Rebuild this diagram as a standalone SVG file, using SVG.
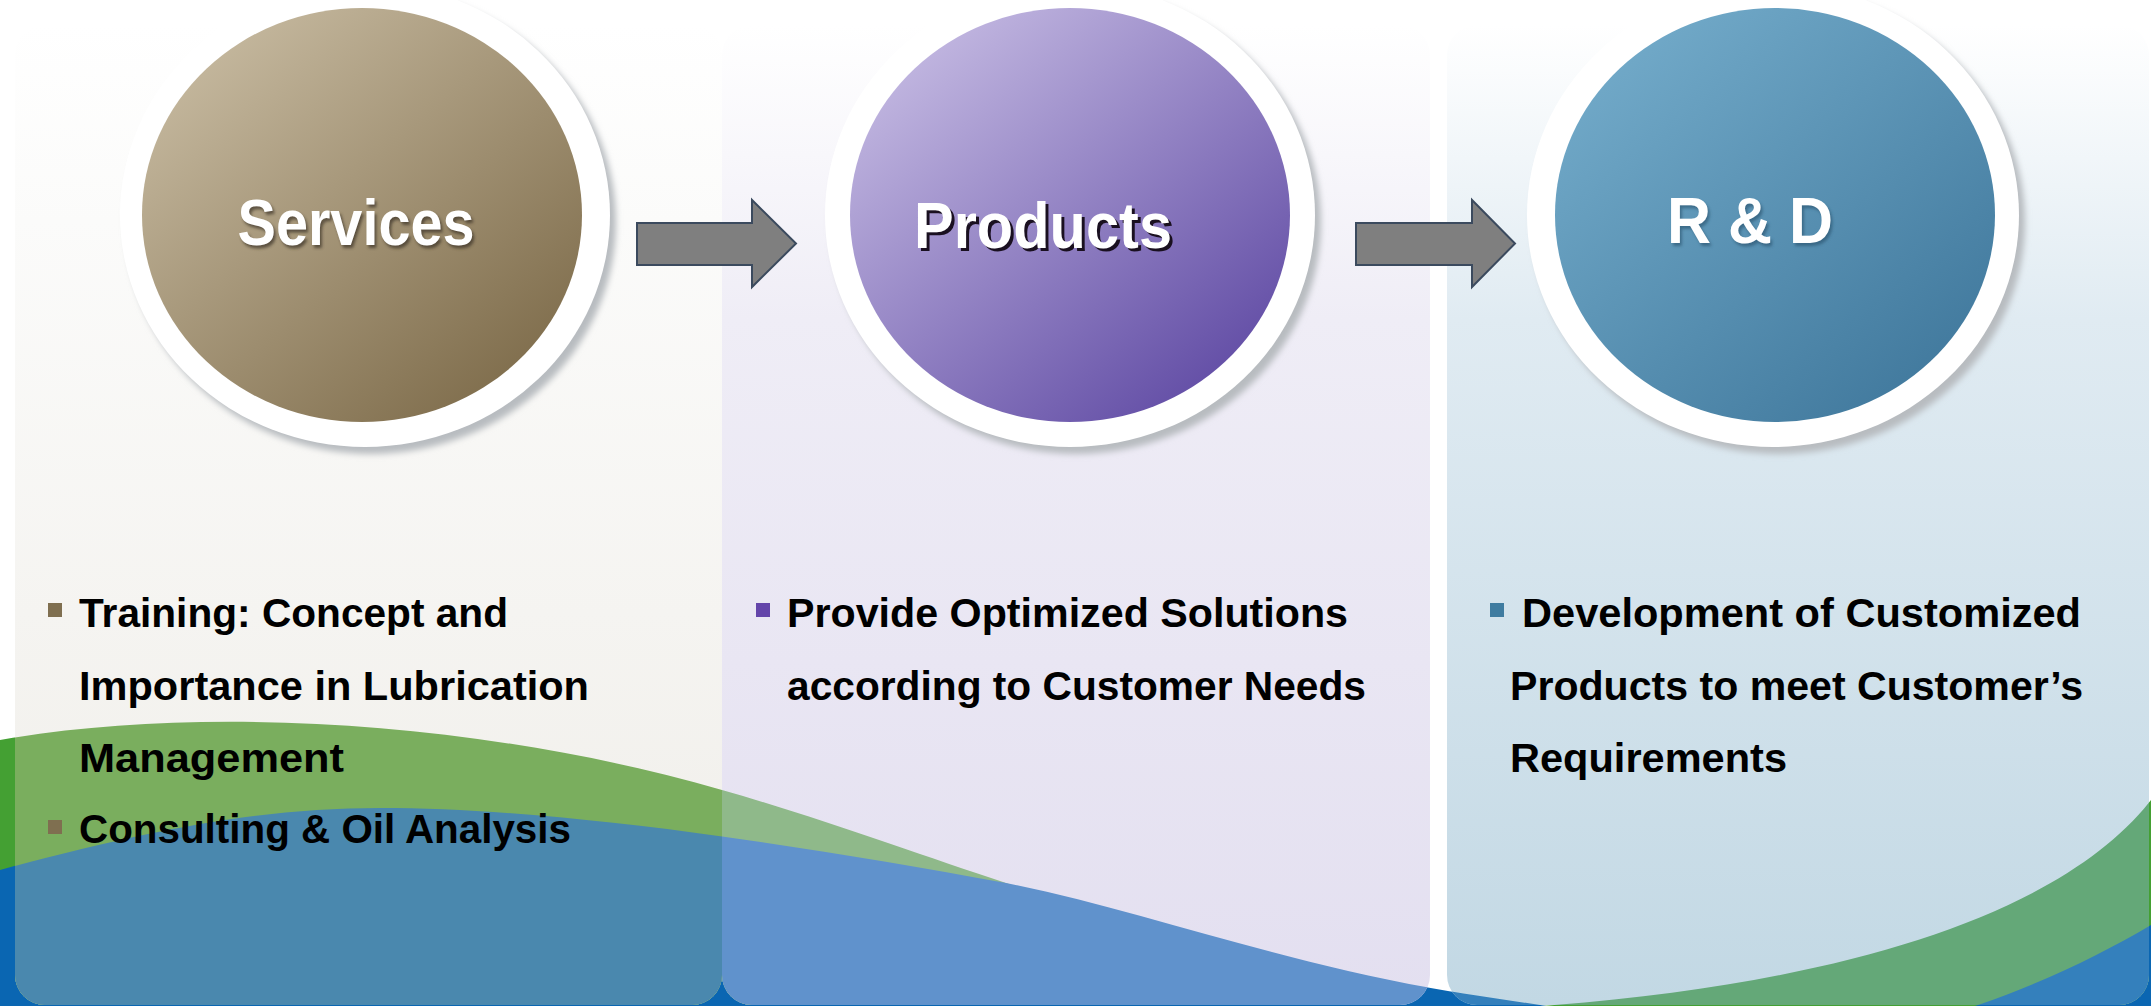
<svg xmlns="http://www.w3.org/2000/svg" xmlns:xlink="http://www.w3.org/1999/xlink" width="2151" height="1006" viewBox="0 0 2151 1006">
<style>
.body{font-family:"Liberation Sans",Arial,sans-serif;font-weight:bold;font-size:40px;fill:#000}
.title{font-family:"Liberation Sans",Arial,sans-serif;font-weight:bold;font-size:64px;fill:#fff;text-anchor:middle}
.tshadow{font-family:"Liberation Sans",Arial,sans-serif;font-weight:bold;font-size:64px;text-anchor:middle}
.arrow{fill:#7f7f7f;stroke:#3b4a5e;stroke-width:2;stroke-linejoin:miter}
.ring{fill:#ffffff}
</style>
<defs>
<path id="greenWave" d="M0,740 C200,705 480,720 722,790 C820,818 920,855 1006,883 C1100,915 1250,980 1350,1012 L1430,1012 C1780,1000 2050,930 2151,800 L2151,1010 L0,1010 Z"/>
<path id="blueWave" d="M0,870 C150,830 260,808 380,808 C560,808 800,845 1006,883 C1150,912 1300,970 1480,996 L1600,1014 L1950,1014 C2030,990 2100,955 2151,925 L2151,1010 L0,1010 Z"/>
<clipPath id="clipP1"><rect x="15" y="25" width="707" height="980" rx="30" ry="30"/></clipPath>
<clipPath id="clipP2"><rect x="722" y="25" width="708" height="980" rx="30" ry="30"/></clipPath>
<clipPath id="clipP3"><rect x="1447" y="25" width="702" height="980" rx="30" ry="30"/></clipPath>
<linearGradient id="gP1" x1="0" y1="0" x2="0" y2="1">
<stop offset="0" stop-color="#ffffff"/><stop offset="0.2" stop-color="#fbfbfa"/><stop offset="1" stop-color="#efede8"/>
</linearGradient>
<linearGradient id="gP2" x1="0" y1="0" x2="0" y2="1">
<stop offset="0" stop-color="#ffffff"/><stop offset="0.3" stop-color="#efedf6"/><stop offset="1" stop-color="#e3dff0"/>
</linearGradient>
<linearGradient id="gP3" x1="0" y1="0" x2="0" y2="1">
<stop offset="0" stop-color="#ffffff"/><stop offset="0.3" stop-color="#e0ebf2"/><stop offset="1" stop-color="#c2d8e4"/>
</linearGradient>
<linearGradient id="gSvc" x1="0.15" y1="0.1" x2="0.85" y2="0.9">
<stop offset="0" stop-color="#c4b79d"/><stop offset="1" stop-color="#806e4d"/>
</linearGradient>
<linearGradient id="gPrd" x1="0.15" y1="0.1" x2="0.85" y2="0.9">
<stop offset="0" stop-color="#c1b6e0"/><stop offset="1" stop-color="#634ea6"/>
</linearGradient>
<linearGradient id="gRD" x1="0.15" y1="0.1" x2="0.85" y2="0.9">
<stop offset="0" stop-color="#71a9c8"/><stop offset="1" stop-color="#427a9e"/>
</linearGradient>
<filter id="blur" x="-10%" y="-10%" width="120%" height="120%"><feGaussianBlur stdDeviation="3"/></filter>
<filter id="tblur" x="-10%" y="-20%" width="120%" height="140%"><feGaussianBlur stdDeviation="1.5"/></filter>
</defs>

<rect x="0" y="0" width="2151" height="1006" fill="#ffffff"/>

<g id="background-waves">
<use xlink:href="#greenWave" fill="#44a033"/>
<use xlink:href="#blueWave" fill="#0a66b2"/>
</g>

<g id="panels">
<g id="panel-services" clip-path="url(#clipP1)">
<rect x="15" y="25" width="707" height="980" fill="url(#gP1)"/>
<use xlink:href="#greenWave" fill="#7aae5e"/>
<use xlink:href="#blueWave" fill="#4a88ae"/>
</g>
<g id="panel-products" clip-path="url(#clipP2)">
<rect x="722" y="25" width="708" height="980" fill="url(#gP2)"/>
<use xlink:href="#greenWave" fill="#8fb98a"/>
<use xlink:href="#blueWave" fill="#6092cc"/>
</g>
<g id="panel-rd" clip-path="url(#clipP3)">
<rect x="1447" y="25" width="702" height="980" fill="url(#gP3)"/>
<use xlink:href="#greenWave" fill="#64a878"/>
<use xlink:href="#blueWave" fill="#3480bc"/>
</g>
</g>

<g id="node-services">
<ellipse cx="371" cy="222" rx="245" ry="232" fill="#b8bcc0" filter="url(#blur)"/>
<ellipse class="ring" cx="365" cy="215" rx="245" ry="232"/>
<ellipse cx="362" cy="215" rx="220" ry="207" fill="url(#gSvc)"/>
<text class="tshadow" x="358" y="248" fill="#3a3226" opacity="0.7" filter="url(#tblur)" textLength="237" lengthAdjust="spacingAndGlyphs">Services</text>
<text class="title" x="356" y="245" textLength="237" lengthAdjust="spacingAndGlyphs">Services</text>
</g>

<g id="node-products">
<ellipse cx="1076" cy="222" rx="245" ry="232" fill="#b8bcc0" filter="url(#blur)"/>
<ellipse class="ring" cx="1070" cy="215" rx="245" ry="232"/>
<ellipse cx="1070" cy="215" rx="220" ry="207" fill="url(#gPrd)"/>
<text class="tshadow" x="1046" y="251" fill="#1a1020" textLength="258" lengthAdjust="spacingAndGlyphs">Products</text>
<text class="title" x="1043" y="248" textLength="258" lengthAdjust="spacingAndGlyphs">Products</text>
</g>

<g id="node-rd">
<ellipse cx="1779" cy="222" rx="246" ry="232" fill="#b8bcc0" filter="url(#blur)"/>
<ellipse class="ring" cx="1773" cy="215" rx="246" ry="232"/>
<ellipse cx="1775" cy="215" rx="220" ry="207" fill="url(#gRD)"/>
<text class="tshadow" x="1752" y="246" fill="#28506a" opacity="0.6" filter="url(#tblur)" textLength="166" lengthAdjust="spacingAndGlyphs">R &amp; D</text>
<text class="title" x="1750" y="243" textLength="166" lengthAdjust="spacingAndGlyphs">R &amp; D</text>
</g>

<g id="connectors">
<polygon class="arrow" points="637,223 752,223 752,200 796,243.5 752,287 752,265 637,265"/>
<polygon class="arrow" points="1356,223 1472,223 1472,200 1515,243.5 1472,287 1472,265 1356,265"/>
</g>

<g id="text-services">
<rect x="48" y="603" width="14" height="14" fill="#7f6f50"/>
<text class="body" x="79" y="627" textLength="429" lengthAdjust="spacingAndGlyphs">Training: Concept and</text>
<text class="body" x="79" y="700" textLength="510" lengthAdjust="spacingAndGlyphs">Importance in Lubrication</text>
<text class="body" x="79" y="772" textLength="265" lengthAdjust="spacingAndGlyphs">Management</text>
<rect x="48" y="820" width="14" height="14" fill="#7f6f50"/>
<text class="body" x="79" y="843" textLength="492" lengthAdjust="spacingAndGlyphs">Consulting &amp; Oil Analysis</text>
</g>

<g id="text-products">
<rect x="756" y="603" width="14" height="14" fill="#6445aa"/>
<text class="body" x="787" y="627" textLength="561" lengthAdjust="spacingAndGlyphs">Provide Optimized Solutions</text>
<text class="body" x="787" y="700" textLength="579" lengthAdjust="spacingAndGlyphs">according to Customer Needs</text>
</g>

<g id="text-rd">
<rect x="1490" y="603" width="14" height="14" fill="#3f7ca0"/>
<text class="body" x="1522" y="627" textLength="559" lengthAdjust="spacingAndGlyphs">Development of Customized</text>
<text class="body" x="1510" y="700" textLength="573" lengthAdjust="spacingAndGlyphs">Products to meet Customer’s</text>
<text class="body" x="1510" y="772" textLength="277" lengthAdjust="spacingAndGlyphs">Requirements</text>
</g>
</svg>
